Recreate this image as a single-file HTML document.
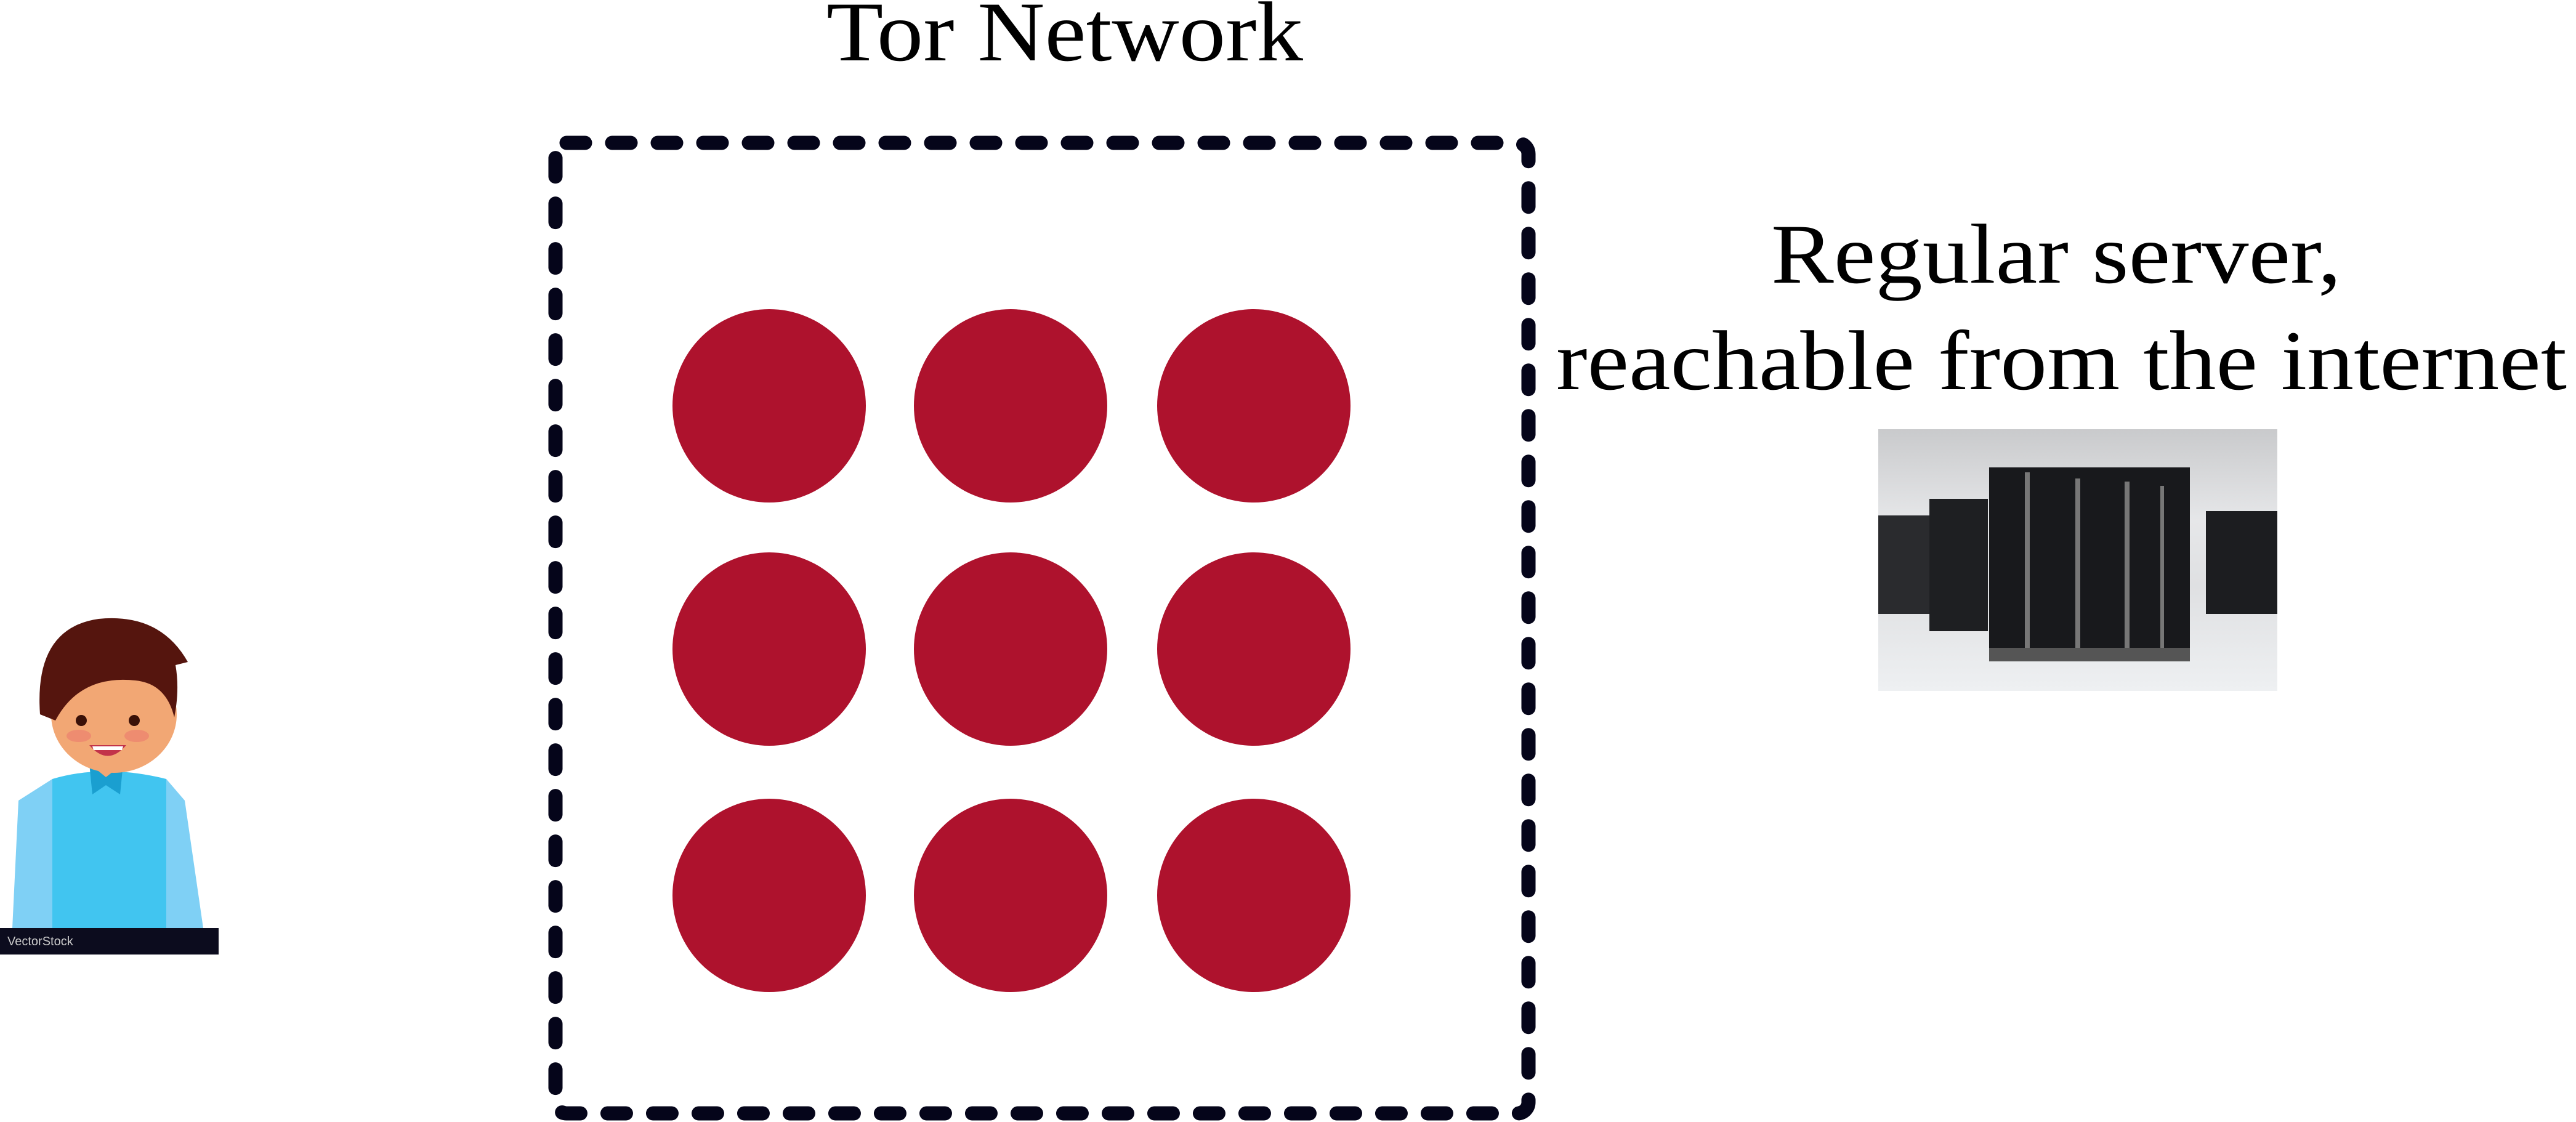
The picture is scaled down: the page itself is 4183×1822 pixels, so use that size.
<!DOCTYPE html>
<html><head><meta charset="utf-8"><style>
html,body{margin:0;padding:0;background:#fff;}
svg{display:block;}
</style></head><body>
<svg width="4183" height="1822" viewBox="0 0 4183 1822" xmlns="http://www.w3.org/2000/svg">
<defs>
<linearGradient id="bg" x1="0" y1="0" x2="0" y2="1">
<stop offset="0" stop-color="#c9cacc"/><stop offset="0.35" stop-color="#e6e7e9"/><stop offset="0.6" stop-color="#dfe0e2"/><stop offset="1" stop-color="#eef0f2"/>
</linearGradient>
</defs>
<g font-family="Liberation Serif, serif" font-size="138" fill="#000">
<text x="1342" y="98" textLength="774" lengthAdjust="spacingAndGlyphs">Tor Network</text>
<text x="2876" y="459" textLength="926" lengthAdjust="spacingAndGlyphs">Regular server,</text>
<text x="2527" y="632" textLength="1641" lengthAdjust="spacingAndGlyphs">reachable from the internet</text>
</g>
<rect x="902" y="232" width="1580" height="1576" rx="18" fill="none" stroke="#05051a" stroke-width="23" stroke-dasharray="30 44" stroke-linecap="round"/>
<g fill="#ae122d">
<circle cx="1249" cy="659" r="157"/><circle cx="1641" cy="659" r="157"/><circle cx="2036" cy="659" r="157"/>
<circle cx="1249" cy="1054" r="157"/><circle cx="1641" cy="1054" r="157"/><circle cx="2036" cy="1054" r="157"/>
<circle cx="1249" cy="1454" r="157"/><circle cx="1641" cy="1454" r="157"/><circle cx="2036" cy="1454" r="157"/>
</g>
<g transform="translate(3050,697)">
<rect width="648" height="425" fill="url(#bg)"/>
<rect x="0" y="140" width="83" height="160" fill="#2a2b2e"/>
<rect x="83" y="113" width="95" height="215" fill="#1e1f22"/>
<rect x="180" y="62" width="326" height="315" fill="#18191c"/>
<rect x="238" y="70" width="8" height="300" fill="#777"/>
<rect x="320" y="80" width="8" height="295" fill="#777"/>
<rect x="400" y="85" width="8" height="280" fill="#777"/>
<rect x="458" y="92" width="6" height="270" fill="#777"/>
<rect x="532" y="133" width="116" height="167" fill="#1c1d20"/>
<rect x="180" y="355" width="326" height="22" fill="#555"/>
</g>
<g transform="translate(0,1000)">
<path d="M30 300 L85 265 L85 507 L20 507 Z" fill="#7fd0f5"/>
<path d="M300 300 L270 265 L270 507 L330 507 Z" fill="#7fd0f5"/>
<path d="M85 265 Q170 240 270 265 L270 507 L85 507 Z" fill="#41c5f0"/>
<rect x="150" y="215" width="45" height="55" fill="#f2a774"/>
<path d="M145 240 L150 290 L172 275 L195 290 L200 240 L172 262 Z" fill="#1a9fd0"/>
<ellipse cx="185" cy="160" rx="102" ry="95" fill="#f2a774"/>
<path d="M65 160 Q55 20 160 5 Q260 -5 305 75 L285 80 Q292 120 283 165 Q270 110 220 105 Q130 95 90 170 Z" fill="#55150e"/>
<circle cx="132" cy="170" r="9" fill="#3a1108"/><circle cx="218" cy="170" r="9" fill="#3a1108"/>
<ellipse cx="128" cy="195" rx="20" ry="10" fill="#ee8c70"/><ellipse cx="222" cy="195" rx="20" ry="10" fill="#ee8c70"/>
<path d="M145 210 Q175 245 205 210 Z" fill="#c2334a"/>
<path d="M150 212 L200 212 L198 218 L152 218 Z" fill="#fff"/>
<rect x="0" y="507" width="355" height="43" fill="#0c0c1e"/>
<text x="12" y="535" font-family="Liberation Sans, sans-serif" font-size="20" fill="#ccc">VectorStock</text>
</g>
</svg>
</body></html>
